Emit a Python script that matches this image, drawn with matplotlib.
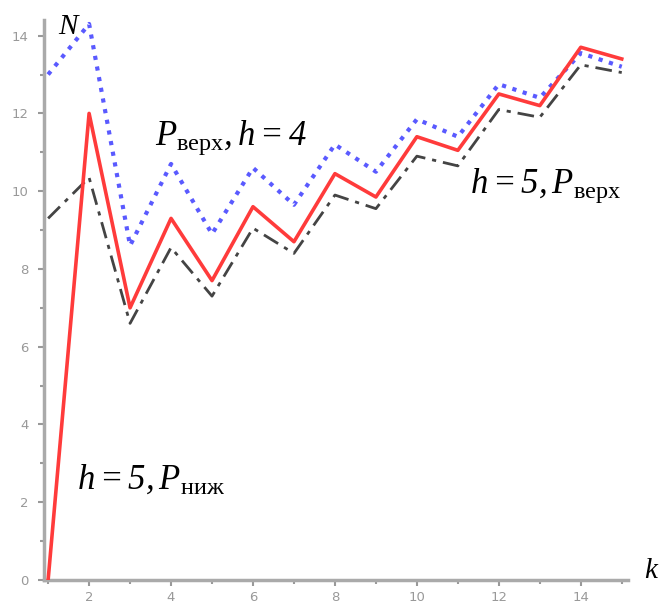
import matplotlib
matplotlib.use("Agg")
import matplotlib.pyplot as plt
import numpy as np

plt.rcParams['mathtext.fontset'] = 'custom'
plt.rcParams['mathtext.rm'] = 'Liberation Serif:italic'
plt.rcParams['mathtext.it'] = 'Liberation Serif:italic'
plt.rcParams['mathtext.sf'] = 'Liberation Serif'

k = list(range(1, 16))
red_solid = [0.0, 12.0, 7.0, 9.3, 7.7, 9.6, 8.7, 10.45, 9.85, 11.4, 11.05, 12.5, 12.2, 13.7, 13.4]
blue_dotted = [13.0, 14.3, 8.6, 10.7, 8.9, 10.6, 9.65, 11.2, 10.5, 11.85, 11.4, 12.75, 12.4, 13.55, 13.2]
black_dashdot = [9.3, 10.35, 6.6, 8.55, 7.3, 9.05, 8.4, 9.9, 9.55, 10.9, 10.65, 12.1, 11.9, 13.25, 13.05]

xticks = [2, 4, 6, 8, 10, 12, 14]
yticks = [0, 2, 4, 6, 8, 10, 12, 14]

fig = plt.figure(figsize=(6.59, 6.08), dpi=100)
ax = fig.add_axes([0.0668, 0.046, 0.886, 0.921])

ax.plot(k, blue_dotted, color='#5a5aff', lw=3, ls=(0, (1, 1.6)), zorder=3)
ax.plot(k, black_dashdot, color='#444444', lw=2, ls=(0, (6, 2.5, 1.5, 2.5)), zorder=2)
ax.plot(k, red_solid, color='#ff3b3b', lw=2.6, zorder=4)

ax.set_xlim(0.9, 15.15)
ax.set_ylim(0, 14.4)
ax.set_xticks(xticks)
ax.set_yticks(yticks)
ax.set_xticks(range(1, 16, 2), minor=True)
ax.set_yticks(range(1, 15, 2), minor=True)
for s in ['top', 'right']:
    ax.spines[s].set_visible(False)
for s in ['left', 'bottom']:
    ax.spines[s].set_color('#aaaaaa')
    ax.spines[s].set_linewidth(2.5)
ax.tick_params(which='both', direction='out', color='#999999', labelcolor='#999999', labelsize=9.5, width=1.5)
ax.tick_params(which='major', length=4, pad=4)
ax.tick_params(axis='y', which='major', pad=7)
ax.tick_params(which='minor', length=3)

fs = 25
ax.text(1.25, 14.25, r'$N$', fontsize=21, ha='left', va='center')
ax.text(15.72, -0.1, r'$k$', fontsize=21, ha='center', va='bottom', clip_on=False)
ax.text(3.6, 11.2, r'$P_{\mathsf{верх}},h=4$', fontsize=fs, ha='left', va='baseline')
ax.text(11.3, 9.95, r'$h=5,P_{\mathsf{верх}}$', fontsize=fs, ha='left', va='baseline')
ax.text(1.7, 2.35, r'$h=5,P_{\mathsf{ниж}}$', fontsize=fs, ha='left', va='baseline')

fig.savefig('out.png', dpi=100)
